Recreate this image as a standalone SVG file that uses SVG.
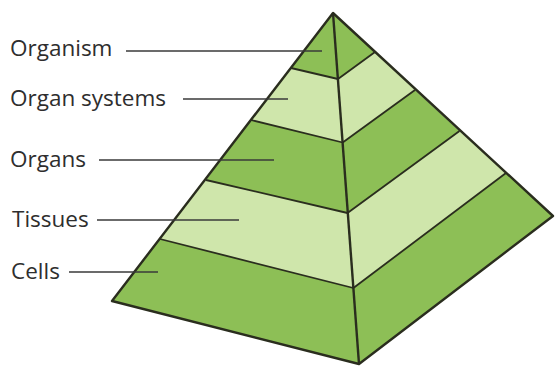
<svg xmlns="http://www.w3.org/2000/svg" width="555" height="366" viewBox="0 0 555 366">
  <style>
    .dark { fill: #8dbf56; }
    .light { fill: #cfe6ab; }
    .edge { fill: none; stroke: #2a2d1e; stroke-width: 2.4; stroke-linejoin: round; }
    .band { fill: none; stroke: #2a2d1e; stroke-width: 1.8; stroke-linejoin: round; }
    .lead { stroke: #3a3a3a; stroke-width: 1.5; }
    .lbl { font-family: "Open Sans", "Liberation Sans", sans-serif; font-size: 22.5px; fill: #2e2e2e; }
  </style>
  <rect width="555" height="366" fill="#ffffff"/>

  <g id="pyramid">
    <g id="level-organism">
      <polygon class="dark" points="333,13 291,68 338,79"/>
      <polygon class="dark" points="333,13 338,79 375,52"/>
    </g>
    <g id="level-organ-systems">
      <polygon class="light" points="291,68 338,79 342.7,142.5 251,120"/>
      <polygon class="light" points="338,79 375,52 415,90 342.7,142.5"/>
    </g>
    <g id="level-organs">
      <polygon class="dark" points="251,120 342.7,142.5 347.5,213 206,180"/>
      <polygon class="dark" points="342.7,142.5 415,90 459.5,131 347.5,213"/>
    </g>
    <g id="level-tissues">
      <polygon class="light" points="206,180 347.5,213 353.4,288 160,239"/>
      <polygon class="light" points="347.5,213 459.5,131 506,173 353.4,288"/>
    </g>
    <g id="level-cells">
      <polygon class="dark" points="160,239 353.4,288 359,364 112,301"/>
      <polygon class="dark" points="353.4,288 506,173 553,216 359,364"/>
    </g>
    <polyline class="band" points="291,68 338,79 375,52"/>
    <polyline class="band" points="251,120 342.7,142.5 415,90"/>
    <polyline class="band" points="206,180 347.5,213 459.5,131"/>
    <polyline class="band" points="160,239 353.4,288 506,173"/>
    <polygon class="edge" points="333,13 112,301 359,364 553,216"/>
    <line class="edge" x1="333" y1="13" x2="359" y2="364"/>
  </g>

  <g id="connectors">
    <line class="lead" x1="126" y1="51" x2="322" y2="51"/>
    <line class="lead" x1="183" y1="99" x2="288" y2="99"/>
    <line class="lead" x1="99" y1="160" x2="274" y2="160"/>
    <line class="lead" x1="97" y1="220" x2="239" y2="220"/>
    <line class="lead" x1="69" y1="272" x2="158" y2="272"/>
  </g>

  <g id="label-organism"><text class="lbl" x="10" y="56">Organism</text></g>
  <g id="label-organ-systems"><text class="lbl" x="10" y="106">Organ systems</text></g>
  <g id="label-organs"><text class="lbl" x="10" y="167">Organs</text></g>
  <g id="label-tissues"><text class="lbl" x="12" y="227">Tissues</text></g>
  <g id="label-cells"><text class="lbl" x="11" y="279">Cells</text></g>
</svg>
